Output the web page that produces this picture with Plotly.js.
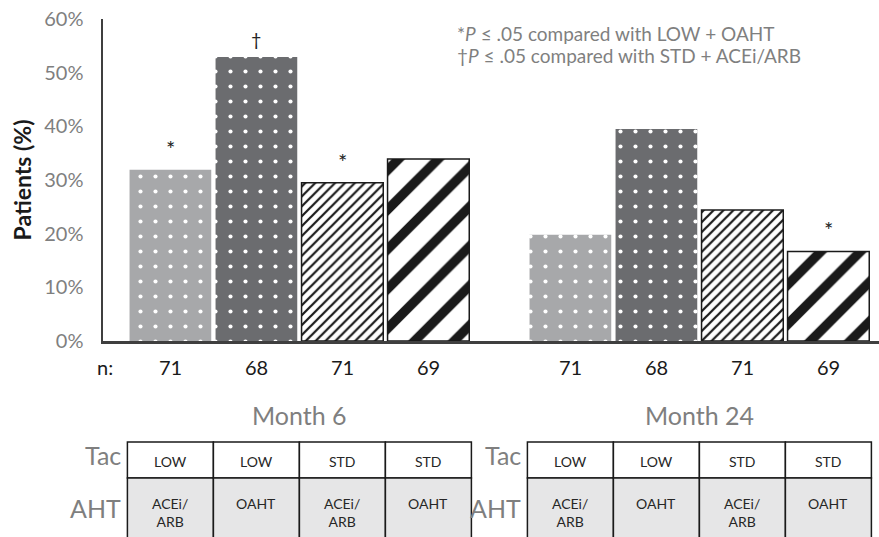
<!DOCTYPE html>
<html>
<head>
<meta charset="utf-8">
<script src="https://cdn.plot.ly/plotly-3.0.1.min.js"></script>
<style>
  html, body { margin: 0; padding: 0; background: #ffffff; }
  #chart { width: 879px; height: 537px; }
</style>
</head>
<body>
<div id="chart"></div>
<script>
// ---- Data ----
const categories = ['Month 6', 'Month 24'];
const seriesNames = ['LOW + ACEi/ARB', 'LOW + OAHT', 'STD + ACEi/ARB', 'STD + OAHT'];
const lowAcei = [31.9, 19.8];
const lowOaht = [52.9, 39.5];
const stdAcei = [29.5, 24.4];
const stdOaht = [33.9, 16.7];
const nLowAcei = [71, 71];
const nLowOaht = [68, 68];
const nStdAcei = [71, 71];
const nStdOaht = [69, 69];
const sigLowAcei = ['*', ''];
const sigLowOaht = ['\u2020', ''];
const sigStdAcei = ['*', ''];
const sigStdOaht = ['', '*'];
const tacLabels = ['LOW', 'LOW', 'STD', 'STD'];
const ahtLabels = ['ACEi/<br>ARB', 'OAHT', 'ACEi/<br>ARB', 'OAHT'];
const yTicks = [0, 10, 20, 30, 40, 50, 60];
const yTickText = ['0%', '10%', '20%', '30%', '40%', '50%', '60%'];
const noteLines = ['*<i>P</i> \u2264 .05 compared with LOW + OAHT',
                   '\u2020<i>P</i> \u2264 .05 compared with STD + ACEi/ARB'];

// ---- Styles ----
const FONT = 'Lato, "Open Sans", sans-serif';
const GRAY = '#7f7f7f';
const styles = [
  {color: '#a7a8aa', pattern: {shape: '.', bgcolor: '#a7a8aa', fgcolor: '#ffffff', fgopacity: 1, size: 15, solidity: 0.06}, line: {width: 0}},
  {color: '#6b6c6f', pattern: {shape: '.', bgcolor: '#6b6c6f', fgcolor: '#ffffff', fgopacity: 1, size: 15, solidity: 0.06}, line: {width: 0}},
  {color: '#ffffff', pattern: {shape: '/', bgcolor: '#ffffff', fgcolor: '#1a1a1a', fgopacity: 1, size: 7, solidity: 0.32}, line: {width: 1.5, color: '#1a1a1a'}},
  {color: '#ffffff', pattern: {shape: '/', bgcolor: '#ffffff', fgcolor: '#1a1a1a', fgopacity: 1, size: 28, solidity: 0.34}, line: {width: 1.5, color: '#1a1a1a'}}
];

const seriesVals = [lowAcei, lowOaht, stdAcei, stdOaht];
const seriesN = [nLowAcei, nLowOaht, nStdAcei, nStdOaht];
const seriesSig = [sigLowAcei, sigLowOaht, sigStdAcei, sigStdOaht];

const traces = seriesVals.map((vals, j) => ({
  type: 'bar',
  name: seriesNames[j],
  x: categories,
  y: vals,
  marker: styles[j],
  hoverinfo: 'name+y'
}));

// layout geometry
const SLOT = 0.215; // width of one bar slot in category units
const slotPos = (i, j) => i + (j - 1.5) * SLOT;

const annotations = [];
const shapes = [];
const ann = (o) => annotations.push(Object.assign({showarrow: false, xanchor: 'center', yanchor: 'middle'}, o));

// significance marks and n values
seriesVals.forEach((vals, j) => {
  vals.forEach((v, i) => {
    const s = seriesSig[j][i];
    if (s) {
      ann({xref: 'x', yref: 'y', x: slotPos(i, j), y: v, text: s,
        yanchor: 'bottom', yshift: s === '*' ? 6 : 5, font: {family: FONT, size: s === '*' ? 22 : 18, color: '#222222'}});
    }
    ann({xref: 'x', yref: 'paper', x: slotPos(i, j), y: -0.081, text: String(seriesN[j][i]),
      font: {family: FONT, size: 20, color: '#1a1a1a'}});
  });
});
ann({xref: 'paper', yref: 'paper', x: 0.003, y: -0.081, text: 'n:', font: {family: FONT, size: 20, color: '#1a1a1a'}});

// note
noteLines.forEach((t, k) => {
  ann({xref: 'paper', yref: 'paper', x: 0.4536, y: [0.9565, 0.888][k], xanchor: 'left',
    text: t, font: {family: FONT, size: 19, color: GRAY}});
});

// tables
const rowTop = -0.3137, rowMid = -0.4255, rowBot = -0.68;
categories.forEach((c, i) => {
  ann({xref: 'x', yref: 'paper', x: i, y: -0.2298, text: c, font: {family: FONT, size: 25, color: GRAY}});
  const left = i - 2 * SLOT;
  ann({xref: 'x', yref: 'paper', x: left, xshift: -4, y: -0.354, xanchor: 'right', text: 'Tac',
    font: {family: FONT, size: 25, color: GRAY}});
  ann({xref: 'x', yref: 'paper', x: left, xshift: -4, y: -0.5186, xanchor: 'right', text: 'AHT',
    font: {family: FONT, size: 25, color: GRAY}});
  for (let j = 0; j < 4; j++) {
    const x0 = i + (j - 2) * SLOT, x1 = x0 + SLOT;
    shapes.push({type: 'rect', xref: 'x', yref: 'paper', x0: x0, x1: x1, y0: rowMid, y1: rowTop,
      fillcolor: '#ffffff', line: {color: '#1a1a1a', width: 1.5}, layer: 'above'});
    shapes.push({type: 'rect', xref: 'x', yref: 'paper', x0: x0, x1: x1, y0: rowBot, y1: rowMid,
      fillcolor: '#e6e6e7', line: {color: '#1a1a1a', width: 1.5}, layer: 'above'});
    ann({xref: 'x', yref: 'paper', x: slotPos(i, j), y: -0.3727, text: tacLabels[j],
      font: {family: FONT, size: 14, color: '#262626'}});
    ann({xref: 'x', yref: 'paper', x: slotPos(i, j), y: -0.472, yanchor: 'top', text: ahtLabels[j],
      font: {family: FONT, size: 14, color: '#262626'}});
  }
});

const layout = {
  width: 879, height: 537,
  margin: {l: 103, r: 0, t: 19, b: 196, pad: 0},
  paper_bgcolor: '#ffffff', plot_bgcolor: '#ffffff',
  showlegend: false,
  barmode: 'group', bargap: 0.14, bargroupgap: 0.05,
  font: {family: FONT},
  xaxis: {
    type: 'category', range: [-0.491, 1.449], showticklabels: false, ticks: '',
    showline: true, linecolor: '#3f3f3f', linewidth: 2.5, showgrid: false, zeroline: false, fixedrange: true
  },
  yaxis: {
    range: [0, 60], tickmode: 'array', tickvals: yTicks, ticktext: yTickText, showgrid: false, zeroline: false,
    showline: true, linecolor: '#3f3f3f', linewidth: 2.5,
    ticks: 'outside', ticklen: 13, tickcolor: 'rgba(0,0,0,0)',
    tickfont: {family: FONT, size: 20, color: GRAY},
    title: {text: '<b>Patients (%)</b>', standoff: 6, font: {family: FONT, size: 23, color: '#1a1a1a'}},
    automargin: false, fixedrange: true
  },
  annotations: annotations,
  shapes: shapes
};

Plotly.newPlot('chart', traces, layout, {displayModeBar: false, staticPlot: true});
</script>
</body>
</html>
